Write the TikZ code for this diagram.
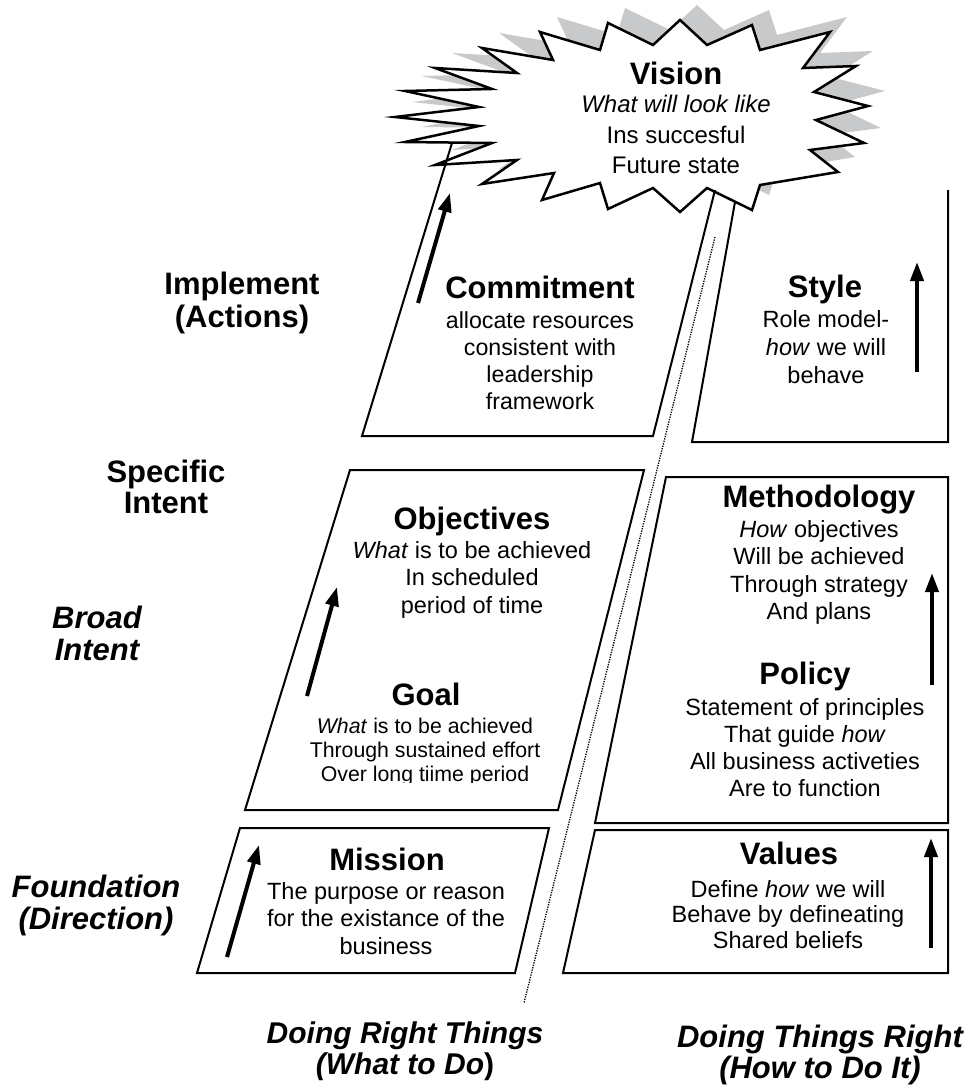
\documentclass[tikz,border=0pt]{standalone}
\usepackage{fontspec}
\setmainfont{Liberation Sans}
\usetikzlibrary{arrows.meta}
\definecolor{shadecol}{RGB}{200,201,203}
\newcommand\bodytext[3]{\fontsize{#1}{#2}\selectfont\begin{tabular}[t]{@{}c@{}}#3\end{tabular}}
\newcommand\headfont{\fontsize{31}{33}\selectfont\bfseries}
\begin{document}
\begin{tikzpicture}[x=1pt,y=-1pt,
  box/.style={line width=2pt, line join=miter},
  upar/.style={line width=4pt, -{Triangle[length=19pt,width=13pt]}},
  head/.style={anchor=base, inner sep=0pt, font=\headfont},
  body/.style={anchor=base, inner sep=0pt},
  burstshape/.style={insert path={(542,200) -- (554,173) -- (482,184) -- (517,160) -- (435,165) -- (492,143) -- (405,142) -- (479,126) -- (395,117) -- (479,107) -- (405,91) -- (492,89) -- (435,68) -- (517,73) -- (482,48) -- (553,60) -- (540,32) -- (600,50) -- (608,23) -- (653,45) -- (680,20) -- (707,45) -- (752,25) -- (760,50) -- (830,32) -- (803,68) -- (856,66) -- (814,92) -- (868,106) -- (816,120) -- (864,143) -- (810,150) -- (838,172) -- (760,185) -- (752,210) -- (707,188) -- (680,212) -- (653,188) -- (608,209) -- (600,183) -- cycle}}
]
\useasboundingbox (0,0) rectangle (976,1089);
\fill[white] (0,0) rectangle (976,1089);

% starburst with shadow
\fill[shadecol, shift={(17,-15)}, burstshape];
\filldraw[fill=white, draw=black, line width=2.5pt, line join=miter, burstshape];

% boxes
\draw[box] (452,143) -- (362,436) -- (653,436) -- (715,190);
\draw[box] (735,202) -- (692,442) -- (948,442) -- (948,190);
\draw[box] (350,470) -- (644,470) -- (558,810) -- (245,810) -- cycle;
\draw[box] (666,477) -- (948,477) -- (948,823) -- (595,823) -- cycle;
\draw[box] (240,828) -- (549,828) -- (515,973) -- (197,973) -- cycle;
\draw[box] (595,830) -- (948,830) -- (948,973) -- (563,973) -- cycle;

% dotted divider
\coordinate (dtop) at (715,237);
\coordinate (dbot) at (524,1003);
\draw[line width=1.3pt, dash pattern=on 1.3pt off 1.2pt] (dtop) -- (dbot);

% arrows
\coordinate (c1) at (418,303); \coordinate (c2) at (450,193);
\coordinate (s1) at (917,372); \coordinate (s2) at (917,262);
\coordinate (g1) at (307,696); \coordinate (g2) at (337,587);
\coordinate (p1) at (932,685); \coordinate (p2) at (932,573);
\coordinate (m1) at (227,957); \coordinate (m2) at (259,845);
\coordinate (v1) at (931,948); \coordinate (v2) at (931,838);
\draw[upar] (c1) -- (c2);
\draw[upar] (s1) -- (s2);
\draw[upar] (g1) -- (g2);
\draw[upar] (p1) -- (p2);
\draw[upar] (m1) -- (m2);
\draw[upar] (v1) -- (v2);

% Vision
\node[head] (visionH) at (676,85) {Vision};
\node[body] (visionB) at (676,113) {\bodytext{24}{30.5}{\textit{What will look like}\\ Ins succesful\\ Future state}};

% Commitment
\node[head] (commitH) at (540,298) {Commitment};
\node[body] (commitB) at (540,328) {\bodytext{23.2}{27.3}{allocate resources\\ consistent with\\ leadership\\ framework}};

% Style
\node[head] (styleH) at (825,297) {Style};
\node[body] (styleB) at (826,327) {\bodytext{23.5}{28}{Role model-\\ \textit{how} we will\\ behave}};

% Objectives
\node[head] (objH) at (472,529) {Objectives};
\node[body] (objB) at (472,558) {\bodytext{23.5}{27.5}{\textit{What} is to be achieved\\ In scheduled\\ period of time}};

% Goal (clipped at bottom)
\node[head] (goalH) at (426,705) {Goal};
\begin{scope}
\clip (250,700) rectangle (600,782);
\node[body] (goalB) at (425,733) {\bodytext{21.3}{24}{\textit{What} is to be achieved\\ Through sustained effort\\ Over long tiime period}};
\end{scope}

% Methodology
\node[head] (methH) at (819,507) {Methodology};
\node[body] (methB) at (819,537) {\bodytext{23.5}{27.5}{\textit{How} objectives\\ Will be achieved\\ Through strategy\\ And plans}};

% Policy
\node[head] (polH) at (805,684) {Policy};
\node[body] (polB) at (805,715) {\bodytext{23.5}{27.3}{Statement of principles\\ That guide \textit{how}\\ All business activeties\\ Are to function}};

% Mission
\node[head] (misH) at (387,870) {Mission};
\node[body] (misB) at (386,899) {\bodytext{23.5}{27.5}{The purpose or reason\\ for the existance of the\\ business}};

% Values
\node[head] (valH) at (789,864) {Values};
\node[body] (valB) at (788,897) {\bodytext{23.5}{25.5}{Define \textit{how} we will\\ Behave by defineating\\ Shared beliefs}};

% left labels
\node[body, font=\bfseries] (impl) at (242,294) {\bodytext{31}{33}{Implement\\ (Actions)}};
\node[body, font=\bfseries] (spec) at (166,482) {\bodytext{31}{31}{Specific\\ Intent}};
\node[body, font=\bfseries\itshape] (broad) at (97,628) {\bodytext{31}{32}{Broad\\ Intent}};
\node[body, font=\bfseries\itshape] (found) at (96,897) {\bodytext{31}{32}{Foundation\\ (Direction)}};

% bottom labels
\node[body, font=\bfseries\itshape] (right) at (405,1043) {\bodytext{30}{31}{Doing Right Things\\ (What to Do\upshape)}};
\node[body, font=\bfseries\itshape] (how) at (820,1047) {\bodytext{31}{29}{Doing Things Right\\ (How to Do It)}};
\end{tikzpicture}
\end{document}
